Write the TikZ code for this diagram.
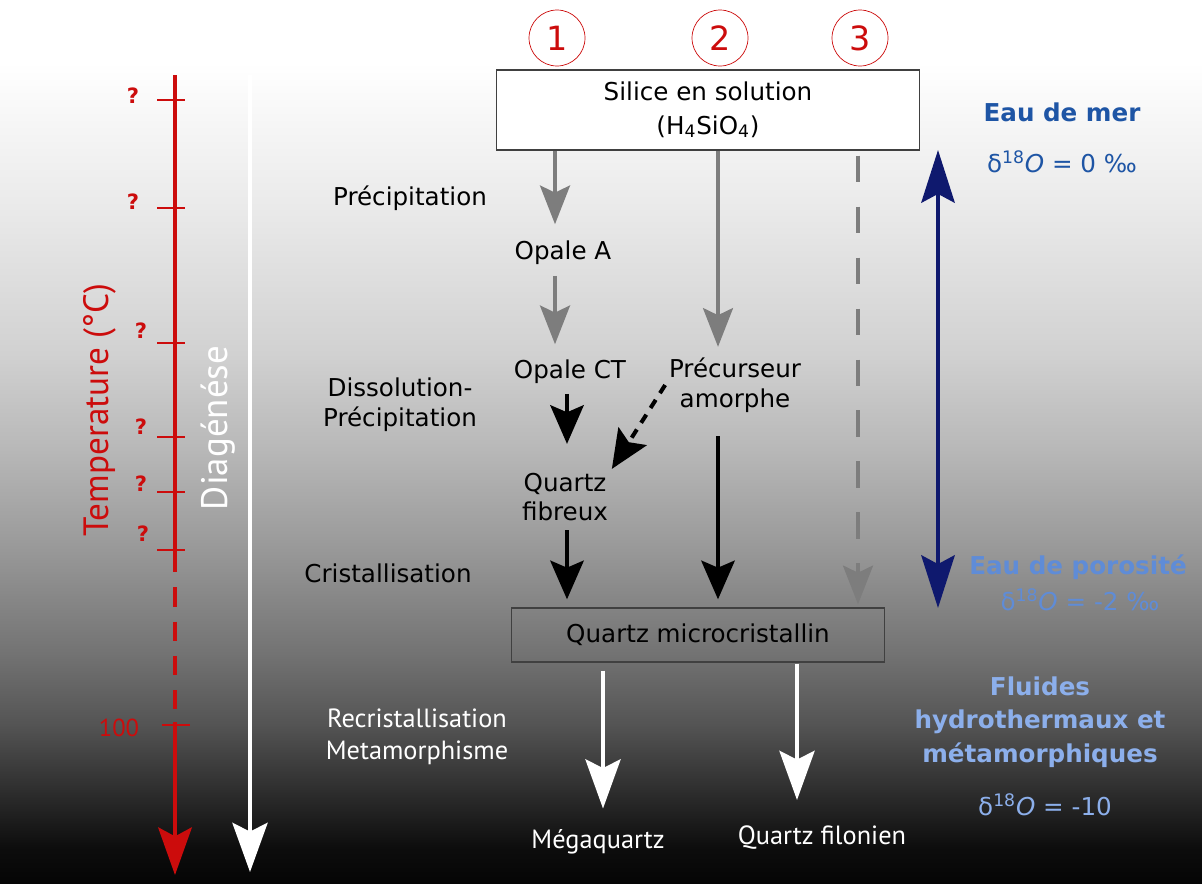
\documentclass[tikz,border=0pt]{standalone}
\usepackage{fontspec}
\setmainfont{DejaVu Sans}
\newfontfamily\myriad{PT Sans}
\usetikzlibrary{arrows.meta,positioning}

\definecolor{tempred}{RGB}{204,12,12}
\definecolor{pathgray}{RGB}{125,125,125}
\definecolor{seablue}{RGB}{30,85,165}
\definecolor{poreblue}{RGB}{95,140,215}
\definecolor{fluidblue}{RGB}{140,175,235}
\definecolor{deepnavy}{RGB}{15,25,110}

\pgfdeclareverticalshading{depthfade}{100bp}{color(0bp)=(black!98); color(25bp)=(black!98); color(27bp)=(black!95); color(29.5bp)=(black!85); color(34bp)=(black!67); color(38bp)=(black!55); color(44bp)=(black!40); color(49.5bp)=(black!28); color(55bp)=(black!18); color(63.5bp)=(black!8); color(71.5bp)=(white); color(100bp)=(white)}

\tikzset{
  stage/.style={font=\fontsize{14}{17}\selectfont, align=center, inner sep=2pt},
  phase/.style={font=\fontsize{14}{17}\selectfont, align=center},
  whitetext/.style={font=\myriad\fontsize{15}{18}\selectfont, text=white, align=center},
  numcirc/.style={circle, draw=tempred, thin, minimum size=1.12cm, text=tempred, font=\fontsize{19}{21}\selectfont},
  qmark/.style={text=tempred, font=\bfseries\fontsize{12}{13}\selectfont},
  grayarrow/.style={draw=pathgray, line width=2.3pt, -{Stealth[length=22pt,width=17pt,inset=4pt]}},
  blackarrow/.style={draw=black, line width=2.3pt, -{Stealth[length=22pt,width=19pt,inset=4pt]}},
  whitearrow/.style={draw=white, line width=2.3pt, -{Stealth[length=28pt,width=20pt,inset=5pt]}},
  tempaxis/.style={draw=tempred, line width=2.8pt},
  isotope/.style={font=\fontsize{14}{17}\selectfont, align=center}
}

\begin{document}
\begin{tikzpicture}[x=0.02cm,y=-0.02cm]
\useasboundingbox (0,0) rectangle (1202,883);
\shade[shading=depthfade] (0,0) rectangle (1202,883);

% temperature axis
\coordinate (ttop) at (175,75);
\coordinate (tdash) at (175,553);
\coordinate (t100) at (175,722);
\coordinate (tbot) at (175,875);
\draw[tempaxis] (ttop) -- (tdash);
\draw[tempaxis, dash pattern=on 11pt off 8.5pt] (tdash) -- (t100);
\draw[tempaxis, -{Stealth[length=27pt,width=19pt,inset=5pt]}] (t100) -- (tbot);
\foreach \y in {100,208,343,437,492,550}
  \draw[tempred, line width=1.6pt] (157,\y) -- (185,\y);
\draw[tempred, line width=1.6pt] (162,725) -- (190,725);
\node[qmark] (q1) at (133,96) {?};
\node[qmark] (q2) at (133,202) {?};
\node[qmark] (q3) at (141,331) {?};
\node[qmark] (q4) at (141,427) {?};
\node[qmark] (q5) at (141,484) {?};
\node[qmark] (q6) at (143,534) {?};
\node[text=tempred, font=\myriad\fontsize{14}{16}\selectfont] (hundred) at (119,728) {100};
\node[rotate=90, text=tempred, font=\myriad\fontsize{20}{22}\selectfont] (templabel) at (100,410) {Temperature (°C)};

% diagenesis axis
\coordinate (dtop) at (250,75);
\coordinate (dbot) at (250,872);
\draw[whitearrow] (dtop) -- (dbot);
\node[rotate=90, text=white, font=\myriad\fontsize{21}{23}\selectfont] (diagenese) at (218,428) {Diagénése};

% paths
\node[numcirc] (c1) at (557,38) {1};
\node[numcirc] (c2) at (720,38) {2};
\node[numcirc] (c3) at (860,38) {3};

\node[draw=black!75, fill=white, thick, minimum width=8.46cm, minimum height=1.6cm, align=center,
      font=\fontsize{14}{19}\selectfont] (silice) at (708,110) {Silice en solution\\(H\textsubscript{4}SiO\textsubscript{4})};

\coordinate (col1) at (555,0);
\coordinate (col1b) at (567,0);
\coordinate (col2) at (718,0);
\coordinate (col3) at (858,0);

\node[stage] (opaleA) at (563,253) {Opale A};
\node[stage] (opaleCT) at (570,372) {Opale CT};
\node[stage] (precurseur) at (735,385) {Précurseur\\amorphe};
\node[stage] (fibreux) at (565,497) {Quartz\\fibreux};
\node[draw=black!75, thick, minimum width=7.46cm, minimum height=1.08cm,
      font=\fontsize{14}{17}\selectfont] (micro) at (698,635) {Quartz microcristallin};
\node[whitetext] (mega) at (598,842) {Mégaquartz};
\node[whitetext] (filon) at (822,838) {Quartz filonien};

\draw[grayarrow, shorten >=0.26cm] (silice.south -| col1) -- (opaleA.north -| col1);
\draw[grayarrow, shorten <=0.14cm, shorten >=0.24cm] (opaleA.south -| col1) -- (opaleCT.north -| col1);
\draw[grayarrow, shorten >=0.14cm] (silice.south -| col2) -- (precurseur.north -| col2);
\draw[grayarrow, dash pattern=on 15pt off 14pt, shorten <=0.1cm, shorten >=0.06cm] (silice.south -| col3) -- (micro.north -| col3);
\draw[blackarrow, shorten <=0.12cm, shorten >=0.5cm] (opaleCT.south -| col1b) -- (fibreux.north -| col1b);
\draw[blackarrow, dash pattern=on 5.5pt off 4.5pt] (precurseur.west) -- (fibreux.north east);
\draw[blackarrow, shorten <=0.1cm, shorten >=0.16cm] (fibreux.south -| col1b) -- (micro.north -| col1b);
\draw[blackarrow, shorten <=0.4cm, shorten >=0.16cm] (precurseur.south -| col2) -- (micro.north -| col2);
\coordinate (col4) at (603,0);
\coordinate (col5) at (797,0);
\draw[whitearrow, shorten <=0.16cm, shorten >=0.3cm] (micro.south -| col4) -- (mega.north -| col4);
\draw[whitearrow, shorten <=0.02cm, shorten >=0.4cm] (micro.south -| col5) -- (filon.north -| col5);

% process labels
\node[phase] (precip) at (410,198) {Précipitation};
\node[phase] (dissol) at (400,405) {Dissolution-\\Précipitation};
\node[phase] (cristal) at (388,573) {Cristallisation};
\node[whitetext] (recrist) at (417,737) {Recristallisation\\Metamorphisme};

% water sources
\coordinate (nvtop) at (938,150);
\coordinate (nvbot) at (938,608);
\draw[draw=deepnavy, line width=2.3pt, {Stealth[length=30pt,width=19pt,inset=5pt]}-{Stealth[length=30pt,width=19pt,inset=5pt]}] (nvtop) -- (nvbot);
\node[isotope, text=seablue, font=\bfseries\fontsize{14}{17}\selectfont] (mer) at (1062,112) {Eau de mer};
\node[isotope, text=seablue] (merdelta) at (1062,162) {δ\textsuperscript{18}\textit{O} = 0 ‰};
\node[isotope, text=poreblue, font=\bfseries\fontsize{14}{17}\selectfont] (pore) at (1078,567) {Eau de porosité};
\node[isotope, text=poreblue] (poredelta) at (1080,600) {δ\textsuperscript{18}\textit{O} = -2 ‰};
\node[isotope, text=fluidblue, font=\bfseries\fontsize{14}{19}\selectfont] (fluide) at (1040,722) {Fluides\\hydrothermaux et\\métamorphiques};
\node[isotope, text=fluidblue] (fluidedelta) at (1045,805) {δ\textsuperscript{18}\textit{O} = -10};

\end{tikzpicture}
\end{document}
